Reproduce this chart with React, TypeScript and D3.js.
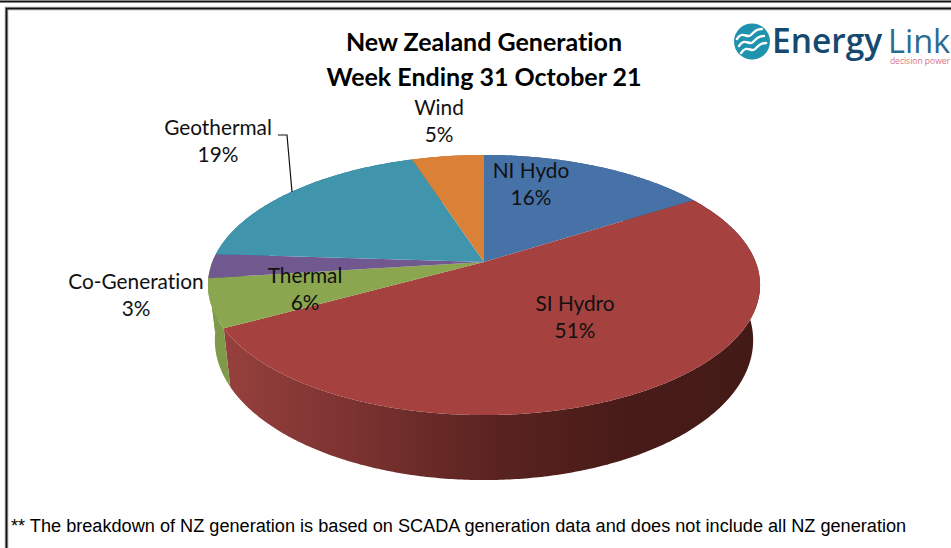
// App.tsx - NZ generation mix, 3D style pie drawn with d3
import React, { useEffect, useRef } from 'react';
import * as d3 from 'd3';

const categories = ["NI Hydo", "SI Hydro", "Thermal", "Co-Generation", "Geothermal", "Wind"];
const shares = [16, 51, 6, 3, 19, 5];
const topColors = ["#4672a8", "#a5423f", "#8aa64e", "#71588f", "#4095ad", "#da8137"];
// Co-Generation wall shows green in the original too, the purple never reaches the rim
const sideColors = ["#33547c", "#7a2f2d", "#7f9a48", "#7f9a48", "#2f6e80", "#a05e28"];
const titleLines = ["New Zealand Generation", "Week Ending 31 October 21"];
const footnote = "** The breakdown of NZ generation is based on SCADA generation data and does not include all NZ generation";

// label centres, same order as categories
const labelX = [531, 575, 305, 136, 218, 439];
const labelY = [178, 311, 283, 289, 135, 115];

export default function App() {
  const svgRef = useRef<SVGSVGElement>(null);
  const width = 951;
  const height = 548;

  useEffect(() => {
    if (!svgRef.current) return;
    const svg = d3.select(svgRef.current);
    svg.selectAll("*").remove();

    const font = "Lato, sans-serif";
    const cx = 484, cy = 262;
    const A = 271.7, B = 126, k = 0.177, depth = 53.5, bottomScale = 0.975;

    // perspective projection of the pie disc, far edge is smaller
    const project = (a: number): [number, number] => {
      const w = 1 + k * Math.cos(a);
      return [cx + A * Math.sin(a) / w, cy - B * Math.cos(a) / w];
    };
    // lower rim of the disc sits further from the camera, so it pulls inwards
    const projectBottom = (a: number): [number, number] => {
      const w = 1 + k * Math.cos(a);
      const [x, y] = project(a);
      return [cx + (x - cx) * bottomScale, y + depth / w];
    };
    const samples = (a0: number, a1: number) => {
      const n = Math.max(2, Math.ceil((a1 - a0) / 0.01));
      return d3.range(n + 1).map(i => a0 + (a1 - a0) * i / n);
    };

    const pie = d3.pie<number>().sort(null).value(d => d)(shares);
    const line = d3.line();

    const defs = svg.append("defs");
    const grad = defs.append("linearGradient").attr("id", "siSide")
      .attr("gradientUnits", "userSpaceOnUse").attr("x1", 225).attr("x2", 762).attr("y1", 0).attr("y2", 0);
    [["0", "#96403d"], ["0.25", "#7a3230"], ["0.5", "#5a2320"], ["0.75", "#481b18"], ["1", "#431a17"]].forEach(([o, c]) => {
      grad.append("stop").attr("offset", o).attr("stop-color", c);
    });

    svg.append("rect").attr("width", width).attr("height", height).attr("fill", "#fff");

    // page frame
    svg.append("line").attr("x1", 0).attr("x2", width).attr("y1", 1.5).attr("y2", 1.5).attr("stroke", "#111").attr("stroke-width", 2);
    svg.append("path").attr("d", `M6.5,${height}V8.5H${width}`).attr("fill", "none").attr("stroke", "#999").attr("stroke-width", 3.5);
    svg.append("path").attr("d", `M6.5,${height}V8.5H${width}`).attr("fill", "none").attr("stroke", "#111").attr("stroke-width", 1.6);

    // side walls first, top face covers whatever is behind it
    pie.forEach((s, i) => {
      const as = samples(s.startAngle, s.endAngle);
      const pts = [...as.map(a => project(a)), ...as.slice().reverse().map(a => projectBottom(a))];
      svg.append("path").attr("d", line(pts) + "Z")
        .attr("fill", categories[i] === "SI Hydro" ? "url(#siSide)" : sideColors[i]);
    });

    pie.forEach((s, i) => {
      const pts = [[cx, cy] as [number, number], ...samples(s.startAngle, s.endAngle).map(a => project(a))];
      svg.append("path").attr("d", line(pts) + "Z").attr("fill", topColors[i]);
    });

    // leader for Geothermal
    svg.append("path").attr("d", "M278,135H287L292,192").attr("fill", "none").attr("stroke", "#111").attr("stroke-width", 1.2);

    categories.forEach((c, i) => {
      const t = svg.append("text").attr("text-anchor", "middle").attr("fill", "#111")
        .style("font-family", font).style("font-size", "20.8px").style("font-variant-ligatures", "none");
      t.append("tspan").attr("x", labelX[i]).attr("y", labelY[i]).text(c);
      t.append("tspan").attr("x", labelX[i]).attr("y", labelY[i] + 27).text(`${shares[i]}%`);
    });

    titleLines.forEach((l, i) => {
      svg.append("text").attr("x", 484).attr("y", 51 + i * 35).attr("text-anchor", "middle").attr("fill", "#000")
        .style("font-family", font).style("font-weight", "bold").style("font-size", "25px").style("font-variant-ligatures", "none").text(l);
    });

    svg.append("text").attr("x", 11).attr("y", 532).attr("fill", "#000")
      .style("font-family", "'Liberation Sans', Arial, sans-serif").style("font-size", "18.15px").text(footnote);

    // logo
    const logo = svg.append("g");
    logo.append("circle").attr("cx", 752).attr("cy", 41.5).attr("r", 18).attr("fill", "#1f93ad");
    [-7, 0, 7].forEach(d => {
      logo.append("path").attr("d", `M${739 + d * 0.3},${46 + d}c6,-9 10,0 14,-4s6,-6 11,-6`)
        .attr("fill", "none").attr("stroke", "#fff").attr("stroke-width", 2.4).attr("stroke-linecap", "round");
    });
    logo.append("text").attr("x", 772).attr("y", 53).attr("fill", "#15496f")
      .style("font-family", "'Open Sans', sans-serif").style("font-weight", 600).style("font-size", "33.5px").text("Energy");
    logo.append("text").attr("x", 888).attr("y", 53).attr("fill", "#2d6a8f")
      .style("font-family", "'Open Sans', sans-serif").style("font-size", "32.5px").text("Link");
    logo.append("text").attr("x", 950).attr("y", 64).attr("text-anchor", "end").attr("fill", "#d9748c")
      .style("font-family", "'Open Sans', sans-serif").style("font-size", "8.5px").text("decision power");
  }, []);

  return <svg ref={svgRef} width={width} height={height} viewBox={`0 0 ${width} ${height}`} style={{ position: "absolute", left: 0, top: 0 }} />;
}
